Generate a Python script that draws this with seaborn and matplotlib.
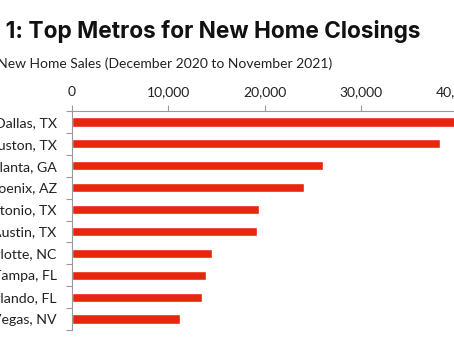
import matplotlib
matplotlib.use("Agg")
import matplotlib.pyplot as plt
import seaborn as sns
import pandas as pd
from matplotlib.ticker import FuncFormatter, FixedLocator

metros = ["Dallas, TX", "Houston, TX", "Atlanta, GA", "Phoenix, AZ", "San Antonio, TX",
          "Austin, TX", "Charlotte, NC", "Tampa, FL", "Orlando, FL", "Las Vegas, NV"]
sales = [40500, 38200, 26100, 24050, 19400, 19200, 14550, 13900, 13550, 11250]
xticks = [0, 10000, 20000, 30000, 40000]

title = "Figure 1: Top Metros for New Home Closings"
subtitle = "Annual New Home Sales (December 2020 to November 2021)"

df = pd.DataFrame({"metro": metros, "sales": sales})

sns.set_theme(style="white")
plt.rcParams["font.family"] = ["Lato", "DejaVu Sans"]

W, H, DPI = 454, 341, 100
fig = plt.figure(figsize=(W / DPI, H / DPI), dpi=DPI)
left = 72 / W
top = 1 - 111 / H
bottom = 1 - 330 / H
width = 385.2 / W
ax = fig.add_axes([left, bottom, width, top - bottom])

sns.barplot(data=df, x="sales", y="metro", orient="h", color="#E8260E",
            width=0.42, saturation=1, ax=ax)

ax.set_xlim(0, 40000)
ax.set_ylim(len(metros) - 0.5, -0.5)
ax.xaxis.tick_top()
ax.xaxis.set_label_position("top")
ax.set_xticks(xticks)
ax.xaxis.set_major_formatter(FuncFormatter(lambda v, p: f"{int(v):,}"))
ax.tick_params(axis="x", which="major", direction="out", length=4, width=0.8,
               color="#999999", labelsize=10, labelcolor="#222222", pad=5)
ax.set_xlabel("")
ax.set_ylabel("")

# category labels, ticks at category boundaries
ax.tick_params(axis="y", which="major", length=0, labelsize=10.2, labelcolor="#222222", pad=11)
ax.yaxis.set_minor_locator(FixedLocator([i - 0.5 for i in range(len(metros) + 1)]))
ax.tick_params(axis="y", which="minor", direction="out", length=4, width=0.8, color="#999999", left=True)

for s in ["bottom", "right"]:
    ax.spines[s].set_visible(False)
for s in ["top", "left"]:
    ax.spines[s].set_visible(True)
    ax.spines[s].set_color("#999999")
    ax.spines[s].set_linewidth(0.8)

fig.text(421 / W, 1 - 38 / H, title, ha="right", va="baseline",
         fontsize=16.3, fontweight="bold", color="#111111", family=["Inter", "DejaVu Sans"])
fig.text(332 / W, 1 - 68 / H, subtitle, ha="right", va="baseline",
         fontsize=10, color="#222222")

fig.savefig("out.png", dpi=DPI)
